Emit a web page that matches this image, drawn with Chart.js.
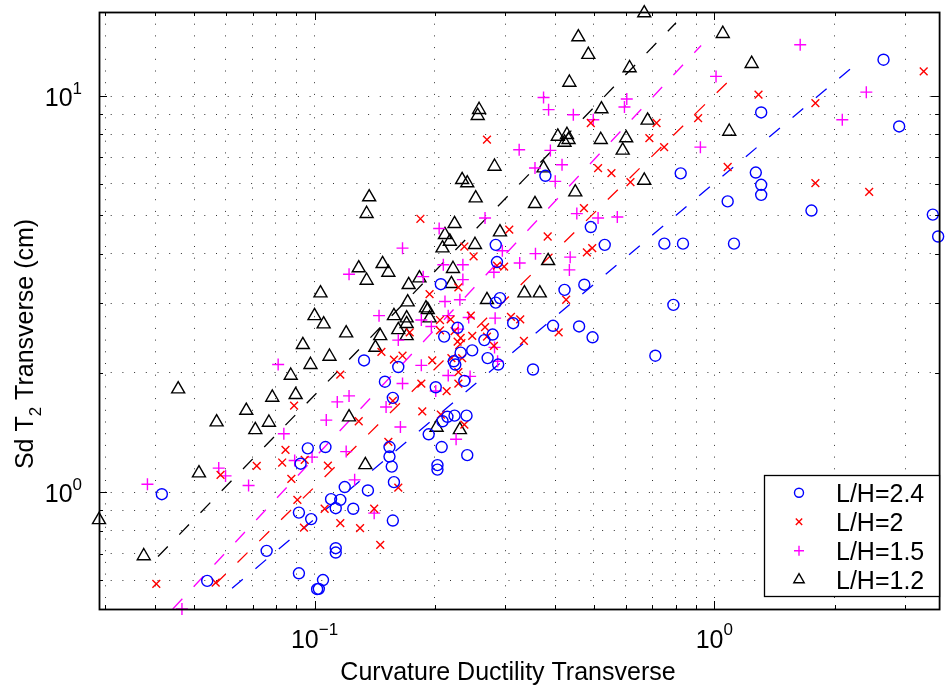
<!DOCTYPE html>
<html>
<head>
<meta charset="utf-8">
<script src="https://cdn.jsdelivr.net/npm/chart.js@4/dist/chart.umd.min.js"></script>
<style>
  html, body { margin: 0; padding: 0; background: #fff; }
  #wrap { width: 948px; height: 688px; position: relative; }
</style>
</head>
<body>
<div id="wrap"><canvas id="ductChart"></canvas></div>
<script>
// L/H = 2.4
const lh24X = [0.0415, 0.0539, 0.0759, 0.0914, 0.0981, 0.0914, 0.1015, 0.0962, 0.0923, 0.1065,
  0.154, 0.154, 0.156, 0.208, 0.241, 0.203, 0.203, 0.158, 0.136, 0.119,
  0.110, 0.116, 0.113, 0.125, 0.157, 0.113, 0.113, 0.105, 0.1025, 0.532,
  0.284, 0.286, 0.207, 0.422, 0.473, 0.291, 0.284, 0.314, 0.395, 0.459,
  0.496, 0.228, 0.211, 0.279, 0.266, 0.232, 0.248, 0.271, 0.223, 0.225,
  0.288, 0.352, 0.133, 0.162, 0.150, 0.237, 0.201, 0.157, 0.240, 0.224,
  0.215, 0.209, 0.193, 0.378, 0.491, 2.65, 1.31, 2.90, 0.824, 1.27,
  1.31, 1.31, 1.08, 1.75, 3.52, 0.750, 0.835, 1.12, 0.790, 0.712, 3.63];
const lh24Y = [0.988, 0.597, 0.711, 0.888, 0.855, 0.624, 0.569, 1.29, 1.18, 1.30,
  1.30, 1.23, 1.16, 1.30, 1.24, 1.17, 1.14, 1.06, 1.01, 1.03,
  0.960, 0.956, 0.911, 0.908, 0.848, 0.722, 0.704, 0.600, 0.570, 4.21,
  4.21, 3.81, 3.35, 3.24, 3.34, 3.09, 3.01, 2.67, 2.63, 2.62,
  2.46, 2.60, 2.47, 2.50, 2.42, 2.25, 2.28, 2.18, 2.14, 2.10,
  2.10, 2.04, 2.15, 2.07, 1.90, 1.91, 1.84, 1.73, 1.56, 1.56,
  1.55, 1.51, 1.40, 6.29, 4.67, 12.35, 9.09, 8.38, 6.38, 6.41,
  5.97, 5.63, 5.42, 5.14, 5.02, 4.24, 4.24, 4.24, 2.97, 2.21, 4.42];

// L/H = 2
const lh20X = [0.0402, 0.0582, 0.0717, 0.0846, 0.0830, 0.0875, 0.0906, 0.0941, 0.0566, 0.0945,
  0.0889, 0.108, 0.162, 0.106, 0.141, 0.116, 0.130, 0.146, 0.383, 0.237,
  0.250, 0.307, 0.480, 0.495, 0.298, 0.286, 0.229, 0.194, 0.426, 0.310,
  0.327, 0.246, 0.219, 0.206, 0.206, 0.267, 0.270, 0.281, 0.248, 0.224,
  0.232, 0.228, 0.334, 0.408, 0.173, 0.147, 0.158, 0.166, 0.197, 0.220,
  0.234, 0.229, 0.229, 0.214, 0.185, 0.116, 0.157, 0.186, 0.207, 0.129,
  0.237, 0.153, 0.270, 0.184, 0.512, 0.553, 0.472, 0.491, 3.34, 1.29,
  1.79, 0.911, 0.717, 0.688, 0.749, 1.08, 0.617, 1.79, 2.44];
const lh20Y = [0.587, 1.106, 1.165, 1.279, 1.188, 1.080, 0.956, 0.814, 0.591, 1.207,
  1.654, 1.167, 1.027, 0.908, 0.908, 0.835, 0.811, 0.736, 4.42, 4.17,
  3.94, 4.60, 4.03, 4.13, 3.71, 3.73, 3.29, 3.16, 3.06, 2.77,
  2.73, 2.79, 2.73, 2.72, 2.56, 2.61, 2.47, 2.34, 2.48, 2.55,
  2.45, 2.40, 2.41, 2.53, 2.53, 2.26, 2.16, 2.21, 2.15, 2.18,
  2.18, 2.01, 1.88, 1.80, 1.88, 1.98, 1.70, 1.60, 1.57, 1.51,
  1.48, 1.34, 7.76, 4.90, 6.58, 6.39, 5.21, 8.55, 11.54, 10.08,
  9.60, 8.80, 8.55, 7.83, 7.43, 6.62, 6.06, 6.03, 5.73];

// L/H = 1.5
const lh15X = [0.0382, 0.0466, 0.0576, 0.0599, 0.0684, 0.0892, 0.0986, 0.0811, 0.0838, 0.120,
  0.126, 0.141, 0.166, 0.122, 0.357, 0.436, 0.434, 0.326, 0.295, 0.235,
  0.210, 0.235, 0.281, 0.212, 0.231, 0.187, 0.145, 0.185, 0.196, 0.216,
  0.243, 0.229, 0.283, 0.282, 0.287, 0.162, 0.185, 0.216, 0.245, 0.166,
  0.201, 0.122, 0.114, 0.151, 0.107, 0.164, 0.226, 0.374, 0.385, 0.444,
  0.498, 0.325, 0.389, 0.416, 0.356, 0.400, 0.453, 0.512, 0.267, 0.205,
  1.64, 1.01, 2.40, 2.09, 0.604, 0.596, 0.923, 0.572];
const lh15Y = [1.047, 0.507, 1.150, 1.099, 1.039, 1.202, 1.226, 2.10, 1.404, 1.266,
  1.074, 0.885, 4.13, 3.55, 4.00, 3.92, 3.64, 3.79, 4.07, 3.75,
  3.75, 3.44, 3.59, 3.03, 3.06, 3.50, 2.79, 2.72, 2.62, 2.79,
  2.76, 2.58, 2.75, 2.32, 2.14, 2.42, 2.09, 1.97, 1.96, 1.88,
  1.80, 1.75, 1.69, 1.64, 1.52, 1.46, 1.36, 9.92, 9.24, 8.97,
  8.71, 7.32, 7.29, 6.71, 6.58, 6.09, 5.05, 4.92, 4.92, 4.63,
  13.48, 11.21, 10.23, 8.71, 9.83, 9.38, 7.43, 4.95];

// L/H = 1.2
const lh12X = [0.0289, 0.0374, 0.0456, 0.0514, 0.0569, 0.0675, 0.0711, 0.0769, 0.0784, 0.0872,
  0.0897, 0.0935, 0.0977, 0.100, 0.1035, 0.1054, 0.109, 0.120, 0.122, 0.129,
  0.134, 0.135, 0.135, 0.137, 0.142, 0.146, 0.148, 0.153, 0.158, 0.162,
  0.170, 0.170, 0.170, 0.171, 0.172, 0.183, 0.190, 0.192, 0.194, 0.202,
  0.209, 0.212, 0.218, 0.220, 0.222, 0.224, 0.231, 0.234, 0.241, 0.252,
  0.253, 0.256, 0.258, 0.270, 0.282, 0.291, 0.335, 0.356, 0.366, 0.374,
  0.384, 0.406, 0.422, 0.428, 0.432, 0.434, 0.449, 0.457, 0.484, 0.520,
  0.522, 0.590, 0.602, 0.614, 0.668, 0.668, 0.681, 1.05, 1.09, 1.24];
const lh12Y = [0.851, 0.690, 1.820, 1.117, 1.502, 1.607, 1.436, 1.499, 1.734, 1.970,
  1.761, 2.355, 2.097, 2.787, 3.181, 2.656, 2.200, 2.521, 1.547, 3.679,
  1.172, 3.422, 5.045, 5.559, 2.318, 2.481, 3.771, 3.585, 2.787, 2.569,
  2.661, 2.750, 2.481, 3.018, 3.338, 3.470, 2.915, 2.886, 2.750, 1.456,
  4.132, 4.464, 4.294, 3.357, 3.664, 4.758, 1.436, 6.146, 6.030, 4.213,
  5.526, 8.918, 9.235, 3.059, 6.640, 4.535, 3.181, 5.346, 3.181, 6.579,
  3.838, 7.907, 7.636, 7.986, 7.757, 10.82, 5.722, 14.09, 12.72, 7.757,
  9.273, 7.290, 7.834, 11.77, 16.2, 6.122, 8.679, 14.37, 8.138, 12.07];

// fitted trend lines (end points)
const fit24X = [0.0622, 2.33];
const fit24Y = [0.572, 12.35];
const fit20X = [0.0566, 1.148];
const fit20Y = [0.587, 11.52];
const fit15X = [0.0442, 0.927];
const fit15Y = [0.507, 13.42];
const fit12X = [0.0406, 0.802];
const fit12Y = [0.688, 15.31];

const seriesLabels = ['L/H=2.4', 'L/H=2', 'L/H=1.5', 'L/H=1.2'];

// grid / tick positions and decade labels
const xGrid = [0.03, 0.04, 0.05, 0.06, 0.07, 0.08, 0.09, 0.1, 0.2, 0.3, 0.4, 0.5, 0.6, 0.7, 0.8, 0.9, 1, 2, 3];
const yGrid = [0.6, 0.7, 0.8, 0.9, 1, 2, 3, 4, 5, 6, 7, 8, 9, 10];
const xLabelPowers = [-1, 0];
const yLabelPowers = [0, 1];

const FONT = "'Liberation Sans', Arial, Helvetica, sans-serif";

function pts(xs, ys) {
  return xs.map((v, i) => ({ x: v, y: ys[i] }));
}

function scatterSet(label, xs, ys, color, style, radius, legendRadius) {
  return {
    type: 'scatter',
    label: label,
    data: pts(xs, ys),
    pointStyle: style,
    pointRadius: radius,
    pointHoverRadius: radius,
    borderColor: color,
    pointBorderColor: color,
    backgroundColor: 'rgba(0,0,0,0)',
    pointBackgroundColor: 'rgba(0,0,0,0)',
    pointBorderWidth: 1.4,
    borderWidth: 1.4,
    clip: false,
    legendRadius: legendRadius
  };
}

function fitSet(xs, ys, color) {
  return {
    type: 'line',
    data: pts(xs, ys),
    borderColor: color,
    borderWidth: 1.3,
    borderDash: [14, 16.5],
    pointRadius: 0,
    fill: false,
    tension: 0,
    clip: false
  };
}

function isDecade(v) {
  const l = Math.log10(v);
  return Math.abs(l - Math.round(l)) < 1e-9;
}

function expText(p) {
  return p < 0 ? '\u2212' + Math.abs(p) : String(p);
}

// axes box, inward ticks, 10^n labels, axis titles and the boxed legend
const matlabFrame = {
  id: 'matlabFrame',
  afterDraw(chart) {
    const ctx = chart.ctx;
    const a = chart.chartArea;
    const xs = chart.scales.x;
    const ys = chart.scales.y;
    ctx.save();

    ctx.strokeStyle = '#000';
    ctx.lineWidth = 1;
    ctx.beginPath();
    xGrid.forEach(v => {
      const px = Math.round(xs.getPixelForValue(v)) + 0.5;
      const len = isDecade(v) ? 8 : 4;
      ctx.moveTo(px, a.bottom); ctx.lineTo(px, a.bottom - len);
      ctx.moveTo(px, a.top); ctx.lineTo(px, a.top + len);
    });
    yGrid.forEach(v => {
      const py = Math.round(ys.getPixelForValue(v)) + 0.5;
      const len = isDecade(v) ? 8 : 4;
      ctx.moveTo(a.left, py); ctx.lineTo(a.left + len, py);
      ctx.moveTo(a.right, py); ctx.lineTo(a.right - len, py);
    });
    ctx.stroke();

    ctx.lineWidth = 1.8;
    ctx.strokeRect(a.left + 0.5, a.top + 0.5, a.right - a.left, a.bottom - a.top);

    // decade tick labels
    ctx.fillStyle = '#000';
    ctx.textBaseline = 'alphabetic';
    ctx.textAlign = 'left';
    const base = '25px ' + FONT;
    const sup = '17px ' + FONT;
    xLabelPowers.forEach(p => {
      const px = xs.getPixelForValue(Math.pow(10, p));
      ctx.font = base; const w1 = ctx.measureText('10').width;
      ctx.font = sup; const w2 = ctx.measureText(expText(p)).width;
      const x0 = px - (w1 + w2) / 2;
      ctx.font = base; ctx.fillText('10', x0, 648);
      ctx.font = sup; ctx.fillText(expText(p), x0 + w1, 635);
    });
    yLabelPowers.forEach(p => {
      const py = ys.getPixelForValue(Math.pow(10, p));
      ctx.font = base; const w1 = ctx.measureText('10').width;
      ctx.font = sup; const w2 = ctx.measureText(expText(p)).width;
      const x0 = 82 - (w1 + w2);
      ctx.font = base; ctx.fillText('10', x0, py + 9.5);
      ctx.font = sup; ctx.fillText(expText(p), x0 + w1, py - 2);
    });

    // x axis title
    ctx.font = base;
    ctx.textAlign = 'center';
    ctx.fillText('Curvature Ductility Transverse', 508, 680);

    // y axis title with subscript
    ctx.save();
    ctx.translate(33, 344);
    ctx.rotate(-Math.PI / 2);
    ctx.textAlign = 'left';
    ctx.font = base; const wa = ctx.measureText('Sd T').width;
    ctx.font = sup; const wb = ctx.measureText('2').width;
    ctx.font = base; const wc = ctx.measureText(' Transverse (cm)').width;
    let tx = -(wa + wb + wc) / 2;
    ctx.font = base; ctx.fillText('Sd T', tx, 0); tx += wa;
    ctx.font = sup; ctx.fillText('2', tx, 8); tx += wb;
    ctx.font = base; ctx.fillText(' Transverse (cm)', tx, 0);
    ctx.restore();

    // legend box
    const lx = 764, ly = 475, lw = 175, lh = 121;
    ctx.fillStyle = '#fff';
    ctx.fillRect(lx, ly, lw, lh);
    ctx.strokeStyle = '#000';
    ctx.lineWidth = 1.3;
    ctx.strokeRect(lx + 0.5, ly + 0.5, lw, lh);
    const items = chart.data.datasets.filter(d => d.type === 'scatter');
    items.forEach((d, i) => {
      const cy = 492.7 + i * 29;
      ctx.strokeStyle = d.borderColor;
      ctx.fillStyle = 'rgba(0,0,0,0)';
      ctx.lineWidth = d.pointBorderWidth;
      Chart.helpers.drawPoint(ctx, {
        pointStyle: d.pointStyle, radius: d.legendRadius, rotation: 0, borderWidth: d.pointBorderWidth
      }, 799, cy);
      ctx.fillStyle = '#000';
      ctx.font = base;
      ctx.textAlign = 'left';
      ctx.fillText(d.label, 836, cy + 9);
    });

    ctx.restore();
  }
};

const gridStyle = { color: '#333', lineWidth: 1, drawTicks: false };

new Chart(document.getElementById('ductChart'), {
  type: 'scatter',
  data: {
    datasets: [
      scatterSet(seriesLabels[0], lh24X, lh24Y, '#0000ff', 'circle', 5.5, 4.5),
      scatterSet(seriesLabels[1], lh20X, lh20Y, '#ff0000', 'crossRot', 5.5, 4.5),
      scatterSet(seriesLabels[2], lh15X, lh15Y, '#ff00ff', 'cross', 6, 5),
      scatterSet(seriesLabels[3], lh12X, lh12Y, '#000000', 'triangle', 7.5, 6),
      fitSet(fit24X, fit24Y, '#0000ff'),
      fitSet(fit20X, fit20Y, '#ff0000'),
      fitSet(fit15X, fit15Y, '#ff00ff'),
      fitSet(fit12X, fit12Y, '#000000')
    ]
  },
  options: {
    responsive: true,
    maintainAspectRatio: false,
    animation: false,
    events: [],
    layout: { padding: { left: 99, right: 0, top: 12, bottom: 79 } },
    plugins: {
      legend: { display: false },
      tooltip: { enabled: false }
    },
    scales: {
      x: {
        type: 'logarithmic',
        min: 0.0289,
        max: 3.65,
        ticks: { display: false, autoSkip: false, callback: () => '' },
        grid: gridStyle,
        border: { display: false, dash: [1, 10.7] },
        afterBuildTicks: s => { s.ticks = xGrid.map(v => ({ value: v })); },
        afterFit: s => { s.height = 0; }
      },
      y: {
        type: 'logarithmic',
        min: 0.507,
        max: 16.3,
        ticks: { display: false, autoSkip: false, callback: () => '' },
        grid: gridStyle,
        border: { display: false, dash: [1, 10.7] },
        afterBuildTicks: s => { s.ticks = yGrid.map(v => ({ value: v })); },
        afterFit: s => { s.width = 0; }
      }
    }
  },
  plugins: [matlabFrame]
});
</script>
</body>
</html>
